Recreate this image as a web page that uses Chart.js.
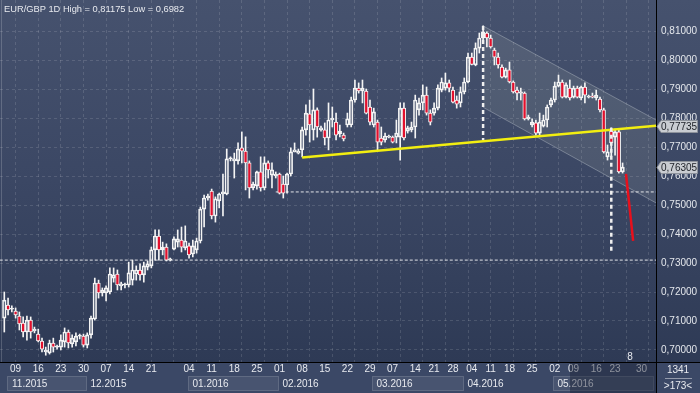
<!DOCTYPE html>
<html>
<head>
<meta charset="utf-8">
<script src="https://cdn.jsdelivr.net/npm/chart.js@4.4.0/dist/chart.umd.min.js"></script>
<style>
  html, body { margin: 0; padding: 0; background: #3b4866; }
</style>
</head>
<body>
<canvas id="chart" width="700" height="393"></canvas>
<script>
// EUR/GBP daily candles (oldest first)
const opens = [0.7110,0.7155,0.7141,0.7134,0.7117,0.7093,0.7062,0.7103,0.7066,0.7055,
  0.7031,0.6993,0.6990,0.7024,0.7010,0.7010,0.7028,0.7062,0.7021,0.7028,
  0.7048,0.7048,0.7017,0.7052,0.7107,0.7231,0.7197,0.7197,0.7200,0.7248,
  0.7262,0.7221,0.7224,0.7224,0.7241,0.7262,0.7276,0.7259,0.7286,0.7290,
  0.7345,0.7393,0.7345,0.7355,0.7310,0.7348,0.7372,0.7379,0.7352,0.7359,
  0.7331,0.7345,0.7376,0.7486,0.7524,0.7548,0.7462,0.7514,0.7538,0.7538,
  0.7659,0.7652,0.7652,0.7697,0.7686,0.7645,0.7559,0.7566,0.7614,0.7559,
  0.7645,0.7603,0.7600,0.7607,0.7572,0.7569,0.7607,0.7683,0.7679,0.7690,
  0.7759,0.7814,0.7759,0.7828,0.7759,0.7759,0.7731,0.7793,0.7786,0.7745,
  0.7741,0.7776,0.7776,0.7862,0.7903,0.7893,0.7893,0.7838,0.7776,0.7786,
  0.7731,0.7724,0.7734,0.7734,0.7734,0.7734,0.7834,0.7755,0.7759,0.7769,
  0.7828,0.7852,0.7879,0.7817,0.7817,0.7834,0.7896,0.7903,0.7921,0.7896,
  0.7862,0.7852,0.7890,0.7924,0.8010,0.7983,0.8041,0.8076,0.8093,0.8076,
  0.8034,0.8010,0.7976,0.7941,0.7966,0.7924,0.7896,0.7886,0.7886,0.7797,
  0.7776,0.7783,0.7748,0.7772,0.7793,0.7845,0.7862,0.7910,0.7924,0.7872,
  0.7903,0.7872,0.7903,0.7869,0.7907,0.7872,0.7876,0.7869,0.7865,0.7828,
  0.7666,0.7755,0.7734,0.7752,0.7614];
const highs = [0.7200,0.7179,0.7152,0.7145,0.7131,0.7114,0.7117,0.7114,0.7079,0.7072,
  0.7041,0.7010,0.7034,0.7041,0.7017,0.7052,0.7076,0.7069,0.7052,0.7059,
  0.7055,0.7055,0.7059,0.7117,0.7248,0.7241,0.7214,0.7221,0.7283,0.7283,
  0.7276,0.7234,0.7231,0.7303,0.7310,0.7290,0.7297,0.7303,0.7307,0.7355,
  0.7414,0.7414,0.7372,0.7366,0.7317,0.7390,0.7414,0.7424,0.7428,0.7369,
  0.7379,0.7386,0.7493,0.7534,0.7538,0.7555,0.7528,0.7541,0.7607,0.7693,
  0.7666,0.7679,0.7714,0.7752,0.7735,0.7652,0.7579,0.7617,0.7666,0.7666,
  0.7652,0.7645,0.7614,0.7610,0.7600,0.7610,0.7697,0.7714,0.7693,0.7769,
  0.7845,0.7862,0.7900,0.7835,0.7772,0.7783,0.7852,0.7838,0.7817,0.7776,
  0.7748,0.7817,0.7872,0.7931,0.7921,0.7931,0.7900,0.7862,0.7834,0.7793,
  0.7769,0.7748,0.7741,0.7738,0.7793,0.7852,0.7852,0.7772,0.7786,0.7879,
  0.7869,0.7914,0.7907,0.7828,0.7852,0.7914,0.7938,0.7955,0.7931,0.7907,
  0.7876,0.7907,0.7938,0.8024,0.8024,0.8059,0.8093,0.81175,0.8097,0.8086,
  0.8041,0.8024,0.7983,0.7972,0.7993,0.7928,0.7907,0.7903,0.7890,0.7810,
  0.7797,0.7793,0.7817,0.7810,0.7845,0.7869,0.7924,0.7948,0.7931,0.7921,
  0.7931,0.7910,0.7910,0.7910,0.7921,0.7879,0.7886,0.7896,0.7872,0.7834,
  0.7707,0.7766,0.7762,0.7759,0.7645];
const lows = [0.7062,0.7121,0.7131,0.7110,0.7069,0.7045,0.7034,0.7041,0.7059,0.7028,
  0.6993,0.6982,0.6986,0.6993,0.7003,0.7000,0.7010,0.7007,0.7010,0.7014,
  0.7038,0.7010,0.7007,0.7041,0.7103,0.7179,0.7186,0.7169,0.7193,0.7234,
  0.7207,0.7207,0.7214,0.7217,0.7224,0.7241,0.7241,0.7234,0.7276,0.7283,
  0.7310,0.7310,0.7328,0.7307,0.7307,0.7345,0.7355,0.7338,0.7345,0.7317,
  0.7321,0.7334,0.7369,0.7424,0.7517,0.7452,0.7441,0.7490,0.7462,0.7535,
  0.7652,0.7593,0.7641,0.7645,0.7552,0.7524,0.7552,0.7555,0.7548,0.7552,
  0.7593,0.7559,0.7593,0.7538,0.7524,0.7541,0.7600,0.7683,0.7676,0.7666,
  0.7741,0.7717,0.7724,0.7734,0.7755,0.7707,0.7690,0.7769,0.7724,0.7735,
  0.7721,0.7769,0.7769,0.7855,0.7886,0.7852,0.7814,0.7776,0.7769,0.7690,
  0.7707,0.7717,0.7731,0.7714,0.7714,0.7655,0.7724,0.7748,0.7752,0.7731,
  0.7810,0.7828,0.7810,0.7776,0.7810,0.7828,0.7890,0.7896,0.7890,0.7852,
  0.7834,0.7838,0.7883,0.7921,0.7983,0.7980,0.8024,0.8069,0.8045,0.8041,
  0.7983,0.7972,0.7938,0.7938,0.7921,0.7886,0.7862,0.7862,0.7793,0.7793,
  0.7769,0.7741,0.7741,0.7769,0.7769,0.7838,0.7855,0.7907,0.7869,0.7869,
  0.7862,0.7869,0.7869,0.7862,0.7852,0.7869,0.7869,0.7862,0.7821,0.7679,
  0.7655,0.7669,0.7672,0.7610,0.7610];
const closes = [0.7172,0.7138,0.7142,0.7121,0.7090,0.7062,0.7103,0.7062,0.7072,0.7031,
  0.7003,0.7000,0.7024,0.7010,0.7011,0.7034,0.7062,0.7024,0.7041,0.7048,
  0.7049,0.7017,0.7052,0.7110,0.7231,0.7197,0.7207,0.7214,0.7262,0.7259,
  0.7224,0.7228,0.7225,0.7266,0.7276,0.7276,0.7259,0.7290,0.7297,0.7345,
  0.7393,0.7345,0.7355,0.7310,0.7314,0.7383,0.7383,0.7355,0.7376,0.7328,
  0.7359,0.7376,0.7486,0.7524,0.7531,0.7462,0.7521,0.7538,0.7545,0.7659,
  0.7660,0.7659,0.7693,0.7686,0.7645,0.7559,0.7572,0.7614,0.7559,0.7645,
  0.7621,0.7621,0.7607,0.7541,0.7541,0.7607,0.7683,0.7690,0.7686,0.7759,
  0.7817,0.7776,0.7828,0.7769,0.7766,0.7731,0.7793,0.7800,0.7741,0.7755,
  0.7728,0.7797,0.7862,0.7903,0.7893,0.7903,0.7817,0.7786,0.7821,0.7717,
  0.7717,0.7738,0.7738,0.7717,0.7748,0.7834,0.7731,0.7766,0.7769,0.7862,
  0.7852,0.7879,0.7817,0.7786,0.7834,0.7903,0.7924,0.7921,0.7903,0.7855,
  0.7848,0.7890,0.7924,0.8010,0.7985,0.8041,0.8076,0.8097,0.8076,0.8045,
  0.8010,0.7983,0.7941,0.7966,0.7924,0.7890,0.7886,0.7890,0.7797,0.7803,
  0.7786,0.7748,0.7786,0.7793,0.7838,0.7862,0.7910,0.7924,0.7872,0.7914,
  0.7869,0.7903,0.7872,0.7907,0.7879,0.7876,0.7872,0.7879,0.7828,0.7683,
  0.7683,0.7714,0.7752,0.7614,0.76305];

// axis ticks
const priceTicks = [0.70,0.71,0.72,0.73,0.74,0.75,0.76,0.77,0.78,0.79,0.80,0.81];
const gridIdx = [3,9,15,21,27,33,39,45,51,57,63,69,75,81,87,93,99,105,111,117,123,129,135,141,147,153,159,165,171];
const weekIdx = [3,9,15,21,27,33,39,49,55,61,67,73,79,85,91,97,103,109,114,119,124,129,134,140,146,151,157,162,169];
const weekLabels = ['09','16','23','30','07','14','21','04','11','18','25','01','08','15','22','29','07','14','21','28','04','11','18','25','02','09','16','23','30'];
const monthIdx = [1,22,49,73,98,122,146,172.5];
const monthLabels = ['11.2015','12.2015','01.2016','02.2016','03.2016','04.2016','05.2016'];

// drawn objects on the chart: [barIndex, price]
const trendLine = [[79, 0.7664], [172.9, 0.77735]];
const channelTop = [[127, 0.81175], [172.9, 0.7793]];
const channelBottom = [[127, 0.7837], [172.9, 0.7507]];
const peakDrop = [[127, 0.81175], [127, 0.7724]];
const breakDrop = [[161, 0.7766], [161, 0.7338]];
const levelUpper = [[72, 0.7545], [172.9, 0.7545]];
const levelLower = [[-1.2, 0.7310], [172.9, 0.7310]];
const projection = [[164.9, 0.7607], [166.8, 0.7376]];
const tagValues = [0.77735, 0.76305];

const FONT = '"Liberation Sans", Arial, sans-serif';
const pts = arr => arr.map(([x, y]) => ({ x, y }));

const bodies = opens.map((o, i) => ({ x: i, y: [o, closes[i]] }));
const upperWicks = opens.map((o, i) => ({ x: i, y: [Math.max(o, closes[i]), highs[i]] }));
const lowerWicks = opens.map((o, i) => ({ x: i, y: [lows[i], Math.min(o, closes[i])] }));
const bodyFill = opens.map((o, i) => (closes[i] < o ? '#e2102d' : 'rgba(0,0,0,0)'));

const wickStyle = {
  type: 'bar', grouped: false, barThickness: 1, backgroundColor: '#f4f4f4',
  borderWidth: 0, order: 6,
};
const lineStyle = { type: 'line', pointRadius: 0, fill: false, tension: 0 };

const noPadding = (ax) => {
  ax.paddingTop = 0; ax.paddingBottom = 0; ax.paddingLeft = 0; ax.paddingRight = 0;
};

const frame = {
  id: 'frame',
  beforeDraw(chart) {
    const { ctx, chartArea: a } = chart;
    const g = ctx.createLinearGradient(0, 0, 0, a.bottom);
    g.addColorStop(0, '#46526e');
    g.addColorStop(0.5, '#3b4764');
    g.addColorStop(1, '#2e3a55');
    ctx.fillStyle = g;
    ctx.fillRect(0, 0, chart.width, a.bottom);
    ctx.fillStyle = '#3b4866';
    ctx.fillRect(0, a.bottom, chart.width, chart.height - a.bottom);
  },
  afterDraw(chart) {
    const { ctx, chartArea: a, scales: { x, y } } = chart;
    ctx.save();
    // month boxes in the time strip
    ctx.font = '10px ' + FONT;
    ctx.textBaseline = 'middle';
    for (let m = 0; m < monthLabels.length; m++) {
      const x0 = Math.round(x.getPixelForValue(monthIdx[m]) - 1.5) + 0.5;
      const x1 = Math.round(x.getPixelForValue(monthIdx[m + 1]) - 1.5) + 0.5;
      if (m % 2 === 0) {
        ctx.fillStyle = 'rgba(255,255,255,0.07)';
        ctx.fillRect(x0, 376.5, x1 - x0, 14);
        ctx.strokeStyle = 'rgba(255,255,255,0.16)';
        ctx.lineWidth = 1;
        ctx.strokeRect(x0, 376.5, x1 - x0, 14);
      }
      ctx.fillStyle = '#e8eaef';
      ctx.textAlign = 'left';
      ctx.fillText(monthLabels[m], Math.max(x0, 8) + 4, 384);
    }
    // week labels
    ctx.textAlign = 'center';
    weekIdx.forEach((v, k) => {
      ctx.fillText(weekLabels[k], x.getPixelForValue(v), 369);
    });
    // dimmed part of the time strip
    ctx.fillStyle = 'rgba(28,36,54,0.45)';
    ctx.fillRect(570, a.bottom + 1, a.right - 570, chart.height - a.bottom);
    // separators
    ctx.strokeStyle = '#000';
    ctx.lineWidth = 1;
    ctx.beginPath();
    ctx.moveTo(a.right + 0.5, 0);
    ctx.lineTo(a.right + 0.5, chart.height);
    ctx.moveTo(0, a.bottom + 0.5);
    ctx.lineTo(chart.width, a.bottom + 0.5);
    ctx.stroke();
    ctx.strokeStyle = 'rgba(255,255,255,0.18)';
    ctx.beginPath();
    ctx.moveTo(1.5, 0);
    ctx.lineTo(1.5, a.bottom);
    ctx.stroke();
    // price tags
    tagValues.forEach((v) => {
      const py = Math.round(y.getPixelForValue(v)) + 0.5;
      ctx.fillStyle = '#c9ccd1';
      ctx.strokeStyle = '#8e939c';
      ctx.beginPath();
      ctx.moveTo(a.right + 1, py);
      ctx.lineTo(a.right + 5, py - 6);
      ctx.lineTo(697.5, py - 6);
      ctx.lineTo(697.5, py + 6);
      ctx.lineTo(a.right + 5, py + 6);
      ctx.closePath();
      ctx.fill();
      ctx.stroke();
      ctx.fillStyle = '#1c1f26';
      ctx.textAlign = 'left';
      ctx.fillText(v.toFixed(5).replace('.', ','), a.right + 5, py + 0.5);
    });
    // corner box
    ctx.fillStyle = '#e8eaef';
    ctx.textAlign = 'center';
    ctx.fillText('1341', 678, 370);
    ctx.fillText('>173<', 678, 386);
    ctx.strokeStyle = 'rgba(255,255,255,0.45)';
    ctx.beginPath();
    ctx.moveTo(665, 378.5);
    ctx.lineTo(692, 378.5);
    ctx.stroke();
    // texts inside the plot
    ctx.fillText('8', 630, 357);
    ctx.textAlign = 'left';
    ctx.font = '9.3px ' + FONT;
    ctx.fillText('EUR/GBP 1D High = 0,81175 Low = 0,6982', 4, 9);
    ctx.restore();
  },
};

new Chart(document.getElementById('chart'), {
  type: 'bar',
  data: {
    datasets: [
      { ...lineStyle, data: pts(channelTop), borderColor: 'rgba(215,220,225,0.35)', borderWidth: 1, order: 20 },
      { ...lineStyle, data: pts(channelBottom), borderColor: 'rgba(215,220,225,0.35)', borderWidth: 1,
        fill: '-1', backgroundColor: 'rgba(190,200,185,0.13)', order: 19 },
      { ...lineStyle, data: pts(levelUpper), borderColor: 'rgba(255,255,255,0.85)', borderWidth: 1, borderDash: [3, 2], order: 9 },
      { ...lineStyle, data: pts(levelLower), borderColor: 'rgba(255,255,255,0.85)', borderWidth: 1, borderDash: [3, 2], order: 9 },
      { ...wickStyle, data: upperWicks },
      { ...wickStyle, data: lowerWicks },
      {
        type: 'bar', grouped: false, barThickness: 3.6, data: bodies,
        backgroundColor: bodyFill, borderColor: '#f4f4f4', borderWidth: 1,
        borderSkipped: false, minBarLength: 1, order: 5,
      },
      { ...lineStyle, data: pts(trendLine), borderColor: '#f2ee10', borderWidth: 2.5, order: 3 },
      { ...lineStyle, data: pts(peakDrop), borderColor: '#f0f0f0', borderWidth: 2.5, borderDash: [4, 3], order: 2 },
      { ...lineStyle, data: pts(breakDrop), borderColor: '#f0f0f0', borderWidth: 2.5, borderDash: [4, 3], order: 2 },
      { ...lineStyle, data: pts(projection), borderColor: '#e8101c', borderWidth: 2.5, order: 1 },
    ],
  },
  options: {
    responsive: false,
    animation: false,
    events: [],
    layout: { padding: 0 },
    plugins: { legend: { display: false }, tooltip: { enabled: false } },
    scales: {
      x: {
        type: 'linear', position: 'bottom', min: -1.14, max: 172.86, offset: false,
        afterBuildTicks: (ax) => { ax.ticks = gridIdx.map((v) => ({ value: v })); },
        afterFit: (ax) => { ax.height = 31; noPadding(ax); },
        ticks: { display: false },
        grid: { color: 'rgba(255,255,255,0.13)', drawTicks: false, offset: false },
        border: { display: false, dash: [3, 3] },
      },
      y: {
        type: 'linear', position: 'right', min: 0.695862, max: 0.820690,
        afterBuildTicks: (ax) => { ax.ticks = priceTicks.map((v) => ({ value: v })); },
        afterFit: (ax) => { ax.width = 44; noPadding(ax); },
        ticks: {
          color: '#e4e7ec', padding: 5, font: { family: FONT, size: 10 },
          callback: (v) => Number(v).toFixed(5).replace('.', ','),
        },
        grid: { color: 'rgba(255,255,255,0.13)', drawTicks: false },
        border: { display: false, dash: [3, 3] },
      },
    },
  },
  plugins: [frame],
});
</script>
</body>
</html>
